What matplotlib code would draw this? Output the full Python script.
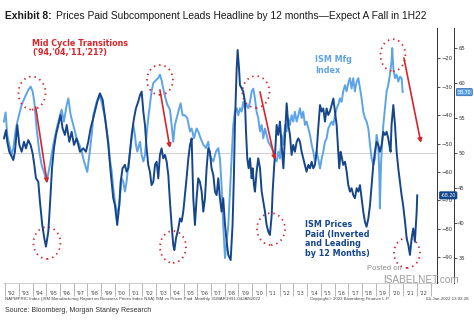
import matplotlib
matplotlib.use("Agg")
import matplotlib.pyplot as plt
from matplotlib.patches import Ellipse

# ISM Manufacturing index (light blue), year fraction vs. index level
ism_t = [1991.92, 1992.04, 1992.16, 1992.36, 1992.48, 1992.60, 1992.79, 1992.96, 1993.21, 1993.45,
         1993.69, 1993.86, 1994.01, 1994.13, 1994.30, 1994.49, 1994.66, 1994.83, 1995.03, 1995.27,
         1995.51, 1995.76, 1996.00, 1996.12, 1996.29, 1996.49, 1996.61, 1996.78, 1996.97, 1997.21,
         1997.41, 1997.58, 1997.75, 1997.99, 1998.14, 1998.31, 1998.43, 1998.67, 1998.86, 1999.03,
         1999.28, 1999.52, 1999.64, 1999.76, 1999.88, 2000.00, 2000.17, 2000.32, 2000.49, 2000.61,
         2000.73, 2000.85, 2000.98, 2001.10, 2001.22, 2001.34, 2001.46, 2001.53, 2001.63, 2001.83,
         2001.95, 2002.07, 2002.19, 2002.31, 2002.43, 2002.55, 2002.67, 2002.80, 2002.99, 2003.16,
         2003.28, 2003.40, 2003.52, 2003.65, 2003.82, 2004.01, 2004.13, 2004.25, 2004.37, 2004.62,
         2004.79, 2004.93, 2005.10, 2005.27, 2005.47, 2005.59, 2005.76, 2005.95, 2006.07, 2006.24,
         2006.44, 2006.63, 2006.80, 2006.92, 2007.04, 2007.17, 2007.36, 2007.53, 2007.65, 2007.77,
         2007.89, 2008.02, 2008.14, 2008.26, 2008.38, 2008.50, 2008.62, 2008.74, 2008.87, 2008.99,
         2009.11, 2009.23, 2009.35, 2009.47, 2009.59, 2009.72, 2009.84, 2009.96, 2010.08, 2010.20,
         2010.32, 2010.44, 2010.57, 2010.69, 2010.81, 2010.93, 2011.05, 2011.17, 2011.29, 2011.42,
         2011.54, 2011.66, 2011.78, 2011.90, 2012.02, 2012.14, 2012.27, 2012.39, 2012.51, 2012.63,
         2012.75, 2012.87, 2012.99, 2013.11, 2013.24, 2013.36, 2013.48, 2013.60, 2013.72, 2013.84,
         2013.96, 2014.09, 2014.21, 2014.33, 2014.45, 2014.57, 2014.69, 2014.81, 2014.94, 2015.06,
         2015.18, 2015.30, 2015.42, 2015.54, 2015.66, 2015.79, 2015.91, 2016.03, 2016.15, 2016.27,
         2016.39, 2016.51, 2016.63, 2016.76, 2016.88, 2017.00, 2017.12, 2017.24, 2017.36, 2017.48,
         2017.61, 2017.73, 2017.85, 2017.97, 2018.09, 2018.21, 2018.33, 2018.46, 2018.58, 2018.70,
         2018.82, 2018.94, 2019.06, 2019.18, 2019.26, 2019.30, 2019.38, 2019.47, 2019.55, 2019.67,
         2019.79, 2019.91, 2020.03, 2020.15, 2020.20, 2020.28, 2020.40, 2020.52, 2020.64, 2020.76,
         2020.88, 2020.96]
ism_v = [54.5, 55.8, 52.6, 50.7, 49.7, 50.7, 53.5, 55.0, 56.9, 58.0,
         59.0, 59.5, 58.8, 57.3, 53.5, 50.2, 48.3, 47.3, 45.9, 48.3,
         51.2, 53.5, 55.4, 56.2, 54.5, 56.9, 57.8, 55.4, 54.0, 52.1,
         51.2, 50.2, 48.8, 47.3, 49.7, 52.6, 55.4, 57.3, 58.3, 57.3,
         55.0, 51.6, 49.0, 47.5, 45.0, 43.1, 41.2, 42.6, 46.4, 45.9,
         44.5, 45.9, 48.3, 50.2, 52.1, 54.0, 52.6, 51.2, 50.2, 51.6,
         49.7, 48.8, 49.7, 52.6, 55.0, 56.9, 58.8, 60.0, 60.4, 60.7,
         61.2, 60.4, 59.2, 58.1, 56.9, 56.2, 54.0, 51.6, 54.0, 55.9,
         57.1, 55.4, 55.4, 55.0, 53.1, 53.5, 52.1, 53.5, 53.1, 52.1,
         51.2, 50.7, 51.6, 49.7, 49.2, 48.8, 50.2, 50.7, 49.2, 45.4,
         39.7, 35.0, 37.3, 39.7, 44.5, 49.2, 54.0, 55.9, 56.4, 55.4,
         56.4, 55.9, 57.3, 56.4, 56.9, 56.4, 57.3, 58.8, 59.2, 57.8,
         55.9, 55.0, 53.1, 54.0, 52.1, 53.5, 52.6, 51.6, 51.2, 50.7,
         50.2, 49.2, 48.8, 50.2, 49.2, 52.6, 51.2, 54.0, 53.1, 55.0,
         54.0, 55.4, 54.5, 55.9, 54.5, 55.4, 56.4, 55.0, 55.9, 54.0,
         54.5, 53.5, 52.6, 51.2, 50.2, 48.8, 50.2, 49.2, 47.8, 49.2,
         50.2, 51.6, 52.1, 53.5, 54.0, 54.5, 54.0, 55.4, 56.4, 56.9,
         57.8, 57.3, 58.8, 59.7, 58.8, 60.0, 60.7, 59.2, 60.7, 58.8,
         60.2, 60.7, 59.2, 57.8, 55.9, 55.0, 54.5, 53.5, 51.2, 49.2,
         48.3, 49.2, 52.6, 51.2, 46.9, 42.1, 48.3, 51.6, 54.0, 56.4,
         58.8, 59.7, 61.2, 63.1, 65.0, 62.1, 60.7, 61.2, 60.2, 60.9,
         60.7, 58.7]

# ISM Prices Paid, inverted (dark blue)
pp_t = [1991.92, 1992.07, 1992.16, 1992.31, 1992.48, 1992.60, 1992.72, 1992.89, 1993.04, 1993.21,
        1993.38, 1993.52, 1993.69, 1993.86, 1994.01, 1994.13, 1994.25, 1994.42, 1994.54, 1994.71,
        1994.86, 1994.98, 1995.15, 1995.27, 1995.42, 1995.56, 1995.71, 1995.88, 1996.05, 1996.19,
        1996.36, 1996.49, 1996.68, 1996.85, 1997.02, 1997.21, 1997.46, 1997.70, 1997.89, 1998.06,
        1998.23, 1998.48, 1998.72, 1998.91, 1999.11, 1999.35, 1999.52, 1999.69, 1999.88, 2000.00,
        2000.17, 2000.32, 2000.42, 2000.56, 2000.73, 2000.85, 2000.98, 2001.10, 2001.22, 2001.39,
        2001.53, 2001.70, 2001.83, 2001.95, 2002.07, 2002.19, 2002.31, 2002.43, 2002.55, 2002.67,
        2002.80, 2002.92, 2003.04, 2003.16, 2003.28, 2003.40, 2003.52, 2003.65, 2003.77, 2003.89,
        2004.01, 2004.13, 2004.25, 2004.33, 2004.45, 2004.62, 2004.74, 2004.86, 2004.98, 2005.10,
        2005.22, 2005.35, 2005.47, 2005.59, 2005.71, 2005.83, 2005.95, 2006.07, 2006.19, 2006.32,
        2006.44, 2006.56, 2006.68, 2006.80, 2006.92, 2007.04, 2007.17, 2007.29, 2007.41, 2007.53,
        2007.65, 2007.77, 2007.89, 2008.02, 2008.14, 2008.26, 2008.43, 2008.57, 2008.67, 2008.74,
        2008.82, 2008.87, 2008.94, 2009.04, 2009.11, 2009.23, 2009.35, 2009.47, 2009.55, 2009.64,
        2009.74, 2009.84, 2009.96, 2010.03, 2010.13, 2010.20, 2010.32, 2010.44, 2010.57, 2010.69,
        2010.81, 2010.93, 2011.05, 2011.17, 2011.29, 2011.42, 2011.49, 2011.59, 2011.66, 2011.78,
        2011.90, 2012.02, 2012.14, 2012.27, 2012.39, 2012.51, 2012.63, 2012.75, 2012.87, 2012.99,
        2013.11, 2013.24, 2013.36, 2013.48, 2013.60, 2013.72, 2013.84, 2013.96, 2014.09, 2014.21,
        2014.33, 2014.45, 2014.57, 2014.69, 2014.81, 2014.94, 2015.06, 2015.18, 2015.30, 2015.42,
        2015.54, 2015.66, 2015.79, 2015.91, 2016.03, 2016.15, 2016.27, 2016.34, 2016.44, 2016.54,
        2016.63, 2016.76, 2016.88, 2017.00, 2017.12, 2017.24, 2017.36, 2017.48, 2017.61, 2017.73,
        2017.85, 2017.97, 2018.09, 2018.21, 2018.33, 2018.46, 2018.58, 2018.70, 2018.82, 2018.94,
        2019.06, 2019.18, 2019.30, 2019.43, 2019.55, 2019.67, 2019.79, 2019.91, 2020.03, 2020.08,
        2020.15, 2020.28, 2020.40, 2020.52, 2020.64, 2020.76, 2020.88, 2020.99, 2021.13, 2021.25,
        2021.37, 2021.49, 2021.61, 2021.73, 2021.85, 2021.98, 2022.02]
pp_v = [-48.2, -45.3, -49.4, -52.9, -54.6, -55.8, -52.9, -43.5, -50.5, -52.9,
        -49.4, -51.7, -48.8, -50.5, -53.5, -57.5, -62.2, -63.4, -70.4, -78.6,
        -83.3, -86.2, -80.9, -71.6, -58.7, -51.7, -47.0, -43.5, -40.0, -44.7,
        -47.0, -43.5, -49.4, -45.9, -50.5, -48.2, -52.9, -51.7, -52.9, -49.4,
        -44.7, -40.0, -35.3, -32.4, -34.7, -43.5, -50.5, -60.0, -69.2, -71.6,
        -78.6, -71.6, -63.4, -58.7, -57.5, -59.9, -58.7, -52.9, -47.0, -41.2,
        -37.7, -35.3, -33.0, -31.8, -38.8, -43.5, -51.7, -57.5, -59.9, -64.6,
        -63.4, -57.5, -56.4, -62.2, -54.0, -51.7, -55.2, -54.0, -56.4, -61.1,
        -70.4, -78.6, -85.6, -87.4, -83.3, -79.8, -76.3, -77.4, -73.9, -68.1,
        -62.2, -55.2, -50.5, -48.2, -69.2, -78.6, -69.2, -62.2, -63.4, -66.9,
        -73.9, -69.2, -58.7, -51.7, -52.9, -58.7, -61.1, -66.9, -68.1, -62.2,
        -69.2, -73.9, -69.2, -78.6, -84.4, -89.1, -90.9, -78.6, -61.1, -43.5,
        -31.8, -23.6, -17.2, -23.6, -29.5, -30.6, -31.8, -35.3, -45.9, -55.2,
        -58.7, -55.2, -62.2, -58.7, -64.6, -66.9, -59.9, -55.2, -58.7, -66.9,
        -70.4, -73.9, -78.6, -80.9, -82.1, -75.1, -66.9, -58.7, -54.0, -43.5,
        -47.0, -42.3, -50.5, -58.7, -47.0, -35.9, -43.5, -47.0, -54.0, -50.5,
        -52.9, -49.4, -48.2, -49.4, -52.9, -55.2, -57.5, -59.9, -57.5, -58.7,
        -56.4, -58.7, -57.5, -52.9, -44.7, -36.5, -38.8, -37.7, -42.3, -37.7,
        -40.0, -38.8, -36.5, -34.2, -38.8, -43.5, -52.9, -58.7, -52.9, -55.2,
        -57.5, -56.4, -59.9, -64.6, -66.9, -65.7, -68.1, -69.2, -65.7, -66.9,
        -64.6, -69.2, -73.9, -77.4, -79.2, -76.3, -71.6, -64.6, -57.5, -52.9,
        -49.4, -50.5, -52.9, -50.5, -45.9, -47.0, -45.9, -48.2, -51.7, -52.9,
        -43.5, -36.5, -43.5, -52.9, -58.7, -63.4, -68.1, -71.6, -77.4, -83.3,
        -85.6, -89.1, -83.3, -79.8, -84.4, -73.9, -68.2]

years = list(range(1992, 2023))
year_labels = ["'%02d" % (y % 100) for y in years]

ism_ticks = [35, 40, 45, 50, 55, 60, 65]
pp_ticks = [-90, -80, -70, -60, -50, -40, -30, -20]

LIGHT = '#5DA4E6'
DARK = '#16468A'
RED = '#D7262B'

fig = plt.figure(figsize=(4.74, 3.25), dpi=100)
W, H = 474, 325
ax = fig.add_axes([3 / W, 1 - 283 / H, 434 / W, 255 / H])
ax2 = ax.twinx()

ax.plot(ism_t, ism_v, color=LIGHT, lw=1.4, solid_joinstyle='round')
ax2.plot(pp_t, pp_v, color=DARK, lw=1.4, solid_joinstyle='round')
ax.axhline(50, color='#C8C8C8', lw=0.6, zorder=0)

ax.set_xlim(1991.85, 2023.46)
ax.set_ylim(31.43, 67.86)
ax2.set_ylim(-98.95, -9.47)

# x axis: year cells
ax.set_xticks([y + 0.5 for y in years])
ax.set_xticklabels(year_labels, fontsize=3.6, color='#444444')
ax.set_xticks(years + [2023], minor=True)
ax.tick_params(axis='x', which='major', length=0, pad=6)
ax.tick_params(axis='x', which='minor', length=9, width=0.5, color='#9A9A9A')

for a in (ax, ax2):
    a.spines['top'].set_visible(False)
    a.spines['left'].set_visible(False)
    a.patch.set_visible(False)
ax.spines['bottom'].set_color('#BBBBBB')
ax.spines['bottom'].set_linewidth(0.5)
ax2.spines['bottom'].set_visible(False)

# right axes: inner = prices paid, outer = ISM
ax.yaxis.tick_right()
ax.spines['right'].set_position(('axes', 1 + 17 / 434))
ax.set_yticks(ism_ticks)
ax.tick_params(axis='y', labelsize=3.8, length=2, width=0.6, pad=1, colors='#333333')
ax2.set_yticks(pp_ticks)
ax2.tick_params(axis='y', labelsize=3.8, length=2, width=0.6, pad=1, colors='#333333')
for a in (ax, ax2):
    a.spines['right'].set_linewidth(0.7)
    a.spines['right'].set_color('#333333')

# last value boxes
ax.annotate('%.2f' % ism_v[-1], xy=(1 + 17 / 434, ism_v[-1]), xycoords=('axes fraction', 'data'),
            xytext=(2.5, 0), textcoords='offset points', fontsize=3.4, color='white',
            va='center', ha='left', annotation_clip=False,
            bbox=dict(boxstyle='round,pad=0.25', fc=LIGHT, ec=DARK, lw=0.4))
ax2.annotate('%.2f' % pp_v[-1], xy=(1, pp_v[-1]), xycoords=('axes fraction', 'data'),
             xytext=(2.5, 0), textcoords='offset points', fontsize=3.4, color='white',
             va='center', ha='left', annotation_clip=False,
             bbox=dict(boxstyle='round,pad=0.25', fc=DARK, ec=DARK, lw=0.4))

# dotted circles around the turning points
circles = [(1993.96, -32.3, 1.97, 11.6), (1995.05, -84.9, 1.97, 11.2),
           (2003.28, -27.7, 1.89, 10.5), (2004.23, -86.3, 1.89, 11.2),
           (2010.27, -31.9, 1.97, 11.2), (2011.37, -80.0, 2.04, 11.2),
           (2020.25, -19.0, 1.82, 11.2), (2021.27, -88.4, 1.89, 10.5)]
for cx, cy, w, h in circles:
    ax2.add_patch(Ellipse((cx, cy), w, h, fill=False, ec=RED, lw=1.3,
                          ls=(0, (0.8, 2.2)), clip_on=False))

arrows = [((1994.23, -37.2), (1995.07, -63.9)), ((2003.28, -31.2), (2004.01, -51.6)),
          ((2010.57, -31.9), (2011.66, -55.8)), ((2021.05, -20.0), (2022.29, -49.8))]
for start, end in arrows:
    ax2.annotate('', xy=end, xytext=start,
                 arrowprops=dict(arrowstyle='-|>', color=RED, lw=1.2,
                                 mutation_scale=6, shrinkA=0, shrinkB=0))

# text labels
fig.text(32 / W, 1 - 48 / H, "Mid Cycle Transitions\n('94,'04,'11,'21?)", color=RED,
         fontsize=5.8, weight='bold', va='center', ha='left', linespacing=1.1,
         family='DejaVu Sans')
fig.text(315 / W, 1 - 65 / H, 'ISM Mfg\nIndex', color=LIGHT, fontsize=5.8, weight='bold',
         va='center', ha='left', linespacing=1.15, family='DejaVu Sans')
fig.text(305 / W, 1 - 239 / H, 'ISM Prices\nPaid (Inverted\nand Leading\nby 12 Months)',
         color=DARK, fontsize=5.8, weight='bold', va='center', ha='left', linespacing=1.1,
         family='DejaVu Sans')

# watermark
fig.text(367 / W, 1 - 268 / H, 'Posted on', color='#8C8C8C', fontsize=5.5, va='center',
         family='Liberation Sans')
fig.text(383 / W, 1 - 280 / H, 'ISABELNET.com', color='#9A9A9A', fontsize=7.2, va='center',
         family='Liberation Sans')

# title
t1 = fig.text(5 / W, 1 - 16 / H, 'Exhibit 8:', fontsize=7.4, weight='bold', va='center',
              family='Liberation Sans', color='#1A1A1A')
fig.canvas.draw()
bb = t1.get_window_extent()
fig.text((bb.x1 + 4) / W, 1 - 16 / H,
         'Prices Paid Subcomponent Leads Headline by 12 months\u2014Expect A Fall in 1H22',
         fontsize=7.4, va='center', family='Liberation Sans', color='#1A1A1A')

# footer
fig.text(5 / W, 1 - 299 / H,
         'NAPMPRIC Index (ISM Manufacturing Report on Business Prices Index NSA) ISM vs Prices Paid  '
         'Monthly 31MAR1991-04JAN2022', fontsize=3.2, color='#444444', va='center',
         family='Liberation Sans')
fig.text(310 / W, 1 - 299 / H, 'Copyright\u00a9 2022 Bloomberg Finance L.P.', fontsize=3.2,
         color='#444444', va='center', family='Liberation Sans')
fig.text(469 / W, 1 - 299 / H, '04-Jan-2022 13:02:28', fontsize=3.2, color='#444444',
         va='center', ha='right', family='Liberation Sans')
fig.text(5 / W, 1 - 311 / H, 'Source: Bloomberg, Morgan Stanley Research', fontsize=5.0,
         color='#333333', va='center', family='Liberation Sans')

fig.savefig('out.png', dpi=100)
